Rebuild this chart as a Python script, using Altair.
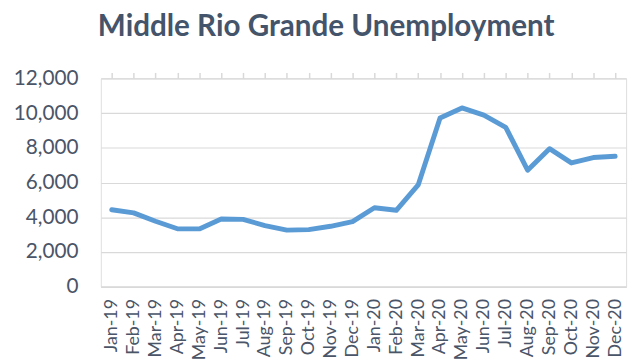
import altair as alt
import pandas as pd

months = ["Jan-19", "Feb-19", "Mar-19", "Apr-19", "May-19", "Jun-19", "Jul-19", "Aug-19",
          "Sep-19", "Oct-19", "Nov-19", "Dec-19", "Jan-20", "Feb-20", "Mar-20", "Apr-20",
          "May-20", "Jun-20", "Jul-20", "Aug-20", "Sep-20", "Oct-20", "Nov-20", "Dec-20"]
unemployed = [4430, 4250, 3770, 3340, 3330, 3900, 3880, 3520, 3260, 3290, 3480, 3750,
              4550, 4400, 5860, 9720, 10300, 9880, 9180, 6710, 7950, 7130, 7440, 7510]
y_ticks = [0, 2000, 4000, 6000, 8000, 10000, 12000]

df = pd.DataFrame({"month": months, "value": unemployed})

FONT = "Lato"
LABEL = "#4A5568"

x_main = alt.X("month:N", sort=months, title=None,
               scale=alt.Scale(paddingInner=0, paddingOuter=0),
               axis=alt.Axis(labelAngle=-90, labelFontSize=18, labelColor=LABEL, labelFont=FONT,
                             ticks=False, domainColor="#D9D9D9", domainWidth=1.5,
                             labelPadding=12, labelBaseline="middle", labelAlign="right"))

line = alt.Chart(df).mark_line(color="#5B9BD5", strokeWidth=5, strokeCap="round",
                               strokeJoin="round").encode(
    x=x_main,
    y=alt.Y("value:Q", title=None,
            scale=alt.Scale(domain=[0, 12000], nice=False),
            axis=alt.Axis(values=y_ticks, format=",.0f",
                          labelFontSize=21, labelColor=LABEL, labelFont=FONT,
                          ticks=False, domain=False, labelPadding=23,
                          gridColor="#D9D9D9", gridWidth=1.2)),
)

ticks = alt.Chart(df).mark_point(opacity=0).encode(
    x=alt.X("month:N", sort=months, title=None,
            axis=alt.Axis(bandPosition=0, labels=False, ticks=True, tickSize=6,
                          tickColor="#D9D9D9", tickWidth=1.5, domain=False, grid=False)),
)

chart = alt.layer(line, ticks).resolve_axis(x="independent").properties(
    width=532, height=211,
    title=alt.TitleParams("Middle Rio Grande Unemployment", font=FONT, fontSize=30,
                          fontWeight="bold", color="#44546A", anchor="start",
                          frame="group", dx=-3, offset=26),
    autosize=alt.AutoSizeParams(type="none"),
    padding={"left": 94, "top": 69, "right": 8, "bottom": 76},
).configure_view(stroke=None).configure(background="white")

chart.save("out.html", embed_options={"renderer": "svg", "actions": False})
